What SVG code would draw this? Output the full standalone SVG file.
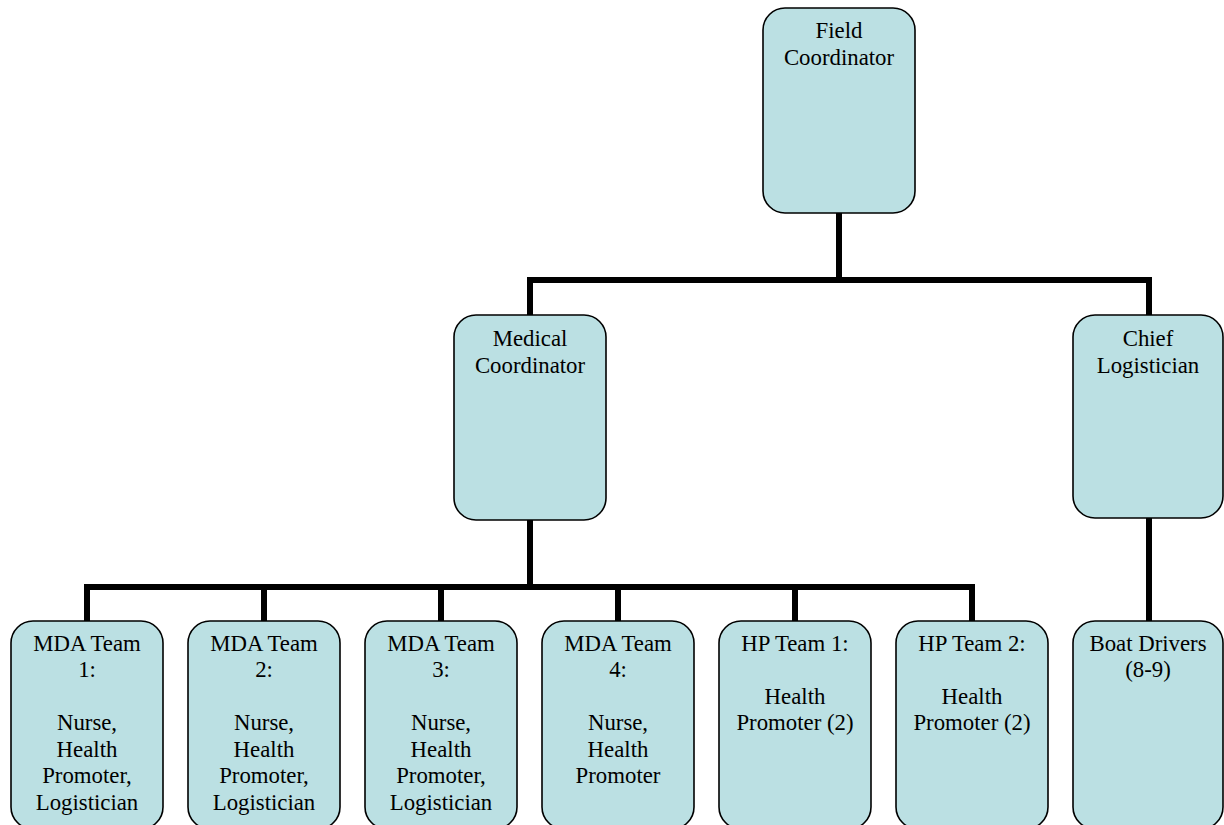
<svg xmlns="http://www.w3.org/2000/svg" width="1224" height="825" viewBox="0 0 1224 825">
<style>
.box{fill:#bbe0e3;stroke:#000;stroke-width:1.6}
.t{font-family:"Liberation Serif","Times New Roman",serif;font-size:22.8px;fill:#000;text-anchor:middle}
.c{fill:none;stroke:#000;stroke-width:6;stroke-linecap:butt;stroke-linejoin:miter}
</style>
<rect width="1224" height="825" fill="#fff"/>
<g id="connectors">
<path class="c" d="M839 213V280M530 280H1149M530 277V315M1149 277V315"/>
<path class="c" d="M530 520V587M87 587H972M87 584V621M264 587V621M441 587V621M618 587V621M795 587V621M972 584V621"/>
<path class="c" d="M1149 518V621"/>
</g>
<g id="field">
<rect class="box" x="763" y="8" width="152" height="205" rx="22"/>
<text class="t" x="839" y="38">Field</text>
<text class="t" x="839" y="65">Coordinator</text>
</g>
<g id="medical">
<rect class="box" x="454" y="315" width="152" height="205" rx="22"/>
<text class="t" x="530" y="346">Medical</text>
<text class="t" x="530" y="373">Coordinator</text>
</g>
<g id="chief">
<rect class="box" x="1073" y="315" width="150" height="203" rx="22"/>
<text class="t" x="1148" y="346">Chief</text>
<text class="t" x="1148" y="373">Logistician</text>
</g>
<g id="mda1">
<rect class="box" x="11" y="621" width="152" height="208" rx="22"/>
<text class="t" x="87" y="651">MDA Team</text>
<text class="t" x="87" y="677">1:</text>
<text class="t" x="87" y="730">Nurse,</text>
<text class="t" x="87" y="757">Health</text>
<text class="t" x="87" y="783">Promoter,</text>
<text class="t" x="87" y="810">Logistician</text>
</g>
<g id="mda2">
<rect class="box" x="188" y="621" width="152" height="208" rx="22"/>
<text class="t" x="264" y="651">MDA Team</text>
<text class="t" x="264" y="677">2:</text>
<text class="t" x="264" y="730">Nurse,</text>
<text class="t" x="264" y="757">Health</text>
<text class="t" x="264" y="783">Promoter,</text>
<text class="t" x="264" y="810">Logistician</text>
</g>
<g id="mda3">
<rect class="box" x="365" y="621" width="152" height="208" rx="22"/>
<text class="t" x="441" y="651">MDA Team</text>
<text class="t" x="441" y="677">3:</text>
<text class="t" x="441" y="730">Nurse,</text>
<text class="t" x="441" y="757">Health</text>
<text class="t" x="441" y="783">Promoter,</text>
<text class="t" x="441" y="810">Logistician</text>
</g>
<g id="mda4">
<rect class="box" x="542" y="621" width="152" height="208" rx="22"/>
<text class="t" x="618" y="651">MDA Team</text>
<text class="t" x="618" y="677">4:</text>
<text class="t" x="618" y="730">Nurse,</text>
<text class="t" x="618" y="757">Health</text>
<text class="t" x="618" y="783">Promoter</text>
</g>
<g id="hp1">
<rect class="box" x="719" y="621" width="152" height="208" rx="22"/>
<text class="t" x="795" y="651">HP Team 1:</text>
<text class="t" x="795" y="704">Health</text>
<text class="t" x="795" y="730">Promoter (2)</text>
</g>
<g id="hp2">
<rect class="box" x="896" y="621" width="152" height="208" rx="22"/>
<text class="t" x="972" y="651">HP Team 2:</text>
<text class="t" x="972" y="704">Health</text>
<text class="t" x="972" y="730">Promoter (2)</text>
</g>
<g id="boat">
<rect class="box" x="1073" y="621" width="150" height="208" rx="22"/>
<text class="t" x="1148" y="651">Boat Drivers</text>
<text class="t" x="1148" y="677">(8-9)</text>
</g>
</svg>
